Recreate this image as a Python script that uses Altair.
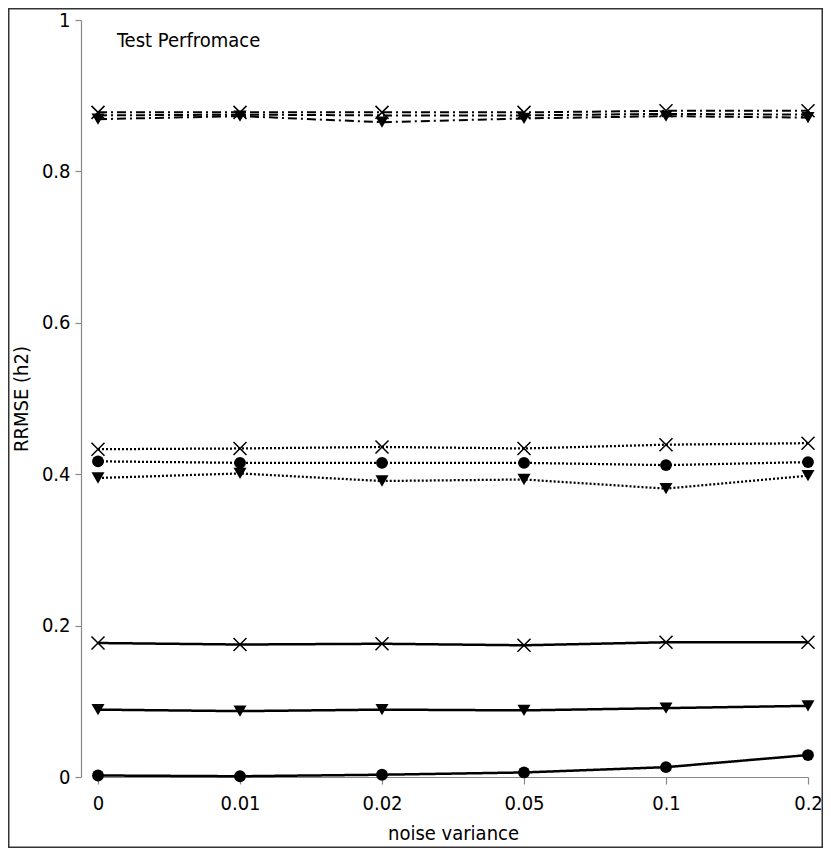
import altair as alt
import pandas as pd

FONT = "DejaVu Sans Condensed, DejaVu Sans"

noise = ["0", "0.01", "0.02", "0.05", "0.1", "0.2"]

solid_cross = [0.177, 0.175, 0.176, 0.174, 0.178, 0.178]
solid_tri = [0.089, 0.087, 0.089, 0.088, 0.091, 0.094]
solid_circle = [0.002, 0.001, 0.003, 0.006, 0.013, 0.029]

dotted_cross = [0.433, 0.434, 0.436, 0.434, 0.439, 0.441]
dotted_circle = [0.417, 0.415, 0.415, 0.415, 0.412, 0.416]
dotted_tri = [0.395, 0.401, 0.391, 0.393, 0.381, 0.398]

dashdot_cross = [0.878, 0.878, 0.878, 0.878, 0.880, 0.880]
dashdot_circle = [0.874, 0.875, 0.874, 0.874, 0.876, 0.875]
dashdot_tri = [0.869, 0.873, 0.865, 0.870, 0.873, 0.871]

series = [
    ("solid", "cross", solid_cross),
    ("solid", "tri", solid_tri),
    ("solid", "circle", solid_circle),
    ("dotted", "cross", dotted_cross),
    ("dotted", "circle", dotted_circle),
    ("dotted", "tri", dotted_tri),
    ("dashdot", "cross", dashdot_cross),
    ("dashdot", "circle", dashdot_circle),
    ("dashdot", "tri", dashdot_tri),
]

rows = []
for style, marker, vals in series:
    for n, v in zip(noise, vals):
        rows.append({"noise": n, "rrmse": v, "style": style, "marker": marker,
                     "series": style + "-" + marker})
df = pd.DataFrame(rows)

x_enc = alt.X("noise:O", sort=noise,
              scale=alt.Scale(type="point", padding=0),
              axis=alt.Axis(title="noise variance", labelAngle=0, tickSize=7,
                            labelPadding=9, titlePadding=10))
y_enc = alt.Y("rrmse:Q",
              scale=alt.Scale(domain=[0, 1], nice=False),
              axis=alt.Axis(title="RRMSE (h2)", values=[0, 0.2, 0.4, 0.6, 0.8, 1],
                            format="~g", offset=17, tickSize=6, labelPadding=5,
                            titlePadding=10))

base = alt.Chart(df)

lines = base.mark_line(color="black").encode(
    x=x_enc, y=y_enc, detail="series:N",
    strokeDash=alt.StrokeDash("style:N", legend=None,
                              scale=alt.Scale(domain=["solid", "dotted", "dashdot"],
                                              range=[[1, 0], [2, 2], [9, 4, 2, 4]])),
    strokeWidth=alt.StrokeWidth("style:N", legend=None,
                                scale=alt.Scale(domain=["solid", "dotted", "dashdot"],
                                                range=[2.5, 2, 2])),
)

filled_pts = base.transform_filter(
    (alt.datum.marker != "cross") & ~((alt.datum.style == "dashdot") & (alt.datum.marker == "circle"))
).mark_point(filled=True, color="black", opacity=1).encode(
    x=x_enc, y=y_enc,
    shape=alt.Shape("marker:N", legend=None,
                    scale=alt.Scale(domain=["circle", "tri"],
                                    range=["circle", "triangle-down"])),
    size=alt.Size("marker:N", legend=None,
                  scale=alt.Scale(domain=["circle", "tri"], range=[140, 170])),
)

cross_pts = base.transform_filter(alt.datum.marker == "cross").mark_point(
    shape="M-1,-1L1,1M-1,1L1,-1", filled=False, color="black", opacity=1,
    size=169, strokeWidth=1.5).encode(x=x_enc, y=y_enc)

label = alt.Chart(pd.DataFrame({"t": ["Test Perfromace"]})).mark_text(
    align="left", baseline="alphabetic", fontSize=20, font=FONT, color="black").encode(
    text="t:N", x=alt.value(19), y=alt.value(27))

border = alt.Chart(pd.DataFrame({"a": [0]})).mark_rect(
    fill="transparent", stroke="#333333", strokeWidth=1.5).encode(
    x=alt.value(-89.25), x2=alt.value(724.25), y=alt.value(-11.25), y2=alt.value(827.25))

chart = alt.layer(border, lines, filled_pts, cross_pts, label).properties(
    width=710, height=757,
    autosize=alt.AutoSizeParams(type="none"),
    padding={"left": 90, "top": 12, "right": 15, "bottom": 71},
).configure_view(stroke=None).configure_axis(
    grid=False, domainColor="#888888", tickColor="#888888", labelColor="black",
    titleColor="black", labelFont=FONT, titleFont=FONT, labelFontSize=20,
    titleFontSize=20, titleFontWeight="normal", domainWidth=1.2, tickWidth=1.2,
)

chart.save("out.html", embed_options={"renderer": "svg", "actions": False})
